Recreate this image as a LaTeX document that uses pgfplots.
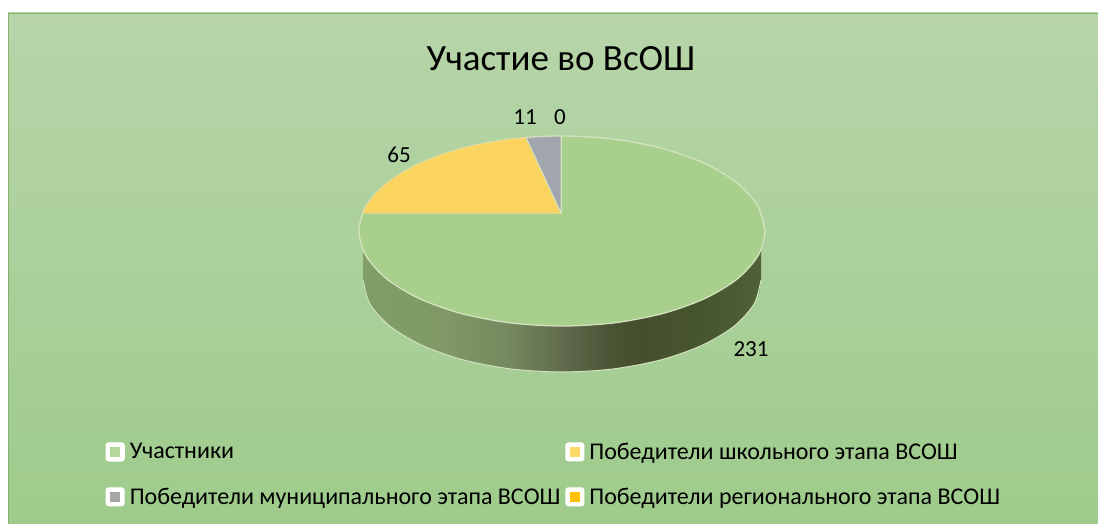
\documentclass[border=0pt]{standalone}
\usepackage{pgfplots}
\pgfplotsset{compat=1.18}
\usepackage{fontspec}
\setmainfont{Carlito}
\definecolor{bgtop}{HTML}{B7D5A9}
\definecolor{bgbot}{HTML}{9ECB8B}
\definecolor{bgedge}{HTML}{84B46C}
\definecolor{ptop}{HTML}{A9CF8D}
\definecolor{pyel}{HTML}{FBD35F}
\definecolor{pgry}{HTML}{A2A4AE}
\definecolor{lgre}{HTML}{B5D79A}
\definecolor{lyel}{HTML}{FFD966}
\definecolor{lgry}{HTML}{A5A5A5}
\definecolor{lora}{HTML}{FFC000}
\definecolor{edgec}{HTML}{D3E2BF}
\pgfdeclarehorizontalshading{pieside}{100bp}{
 rgb(0bp)=(0.50,0.62,0.40);
 rgb(25bp)=(0.50,0.62,0.40);
 rgb(35bp)=(0.50,0.60,0.40);
 rgb(43bp)=(0.46,0.54,0.37);
 rgb(50bp)=(0.38,0.42,0.30);
 rgb(56bp)=(0.29,0.33,0.21);
 rgb(60bp)=(0.27,0.31,0.18);
 rgb(68bp)=(0.28,0.34,0.18);
 rgb(75bp)=(0.31,0.38,0.21);
 rgb(100bp)=(0.31,0.38,0.21)}
\newcommand{\lgd}[1]{%
 \fill[white,rounded corners=2.5pt] (0pt,-9pt) rectangle (18pt,9pt);
 \fill[#1] (4.5pt,-4.5pt) rectangle (13.5pt,4.5pt);}
\begin{document}
\begin{tikzpicture}
\begin{axis}[
 at={(0pt,0pt)}, anchor=south west,
 scale only axis, width=1098pt, height=524pt,
 xmin=0, xmax=1098, ymin=0, ymax=524, y dir=reverse,
 hide axis, clip=false,
 legend columns=2,
 legend cell align=left,
 legend style={at={(axis cs:105.5,441)}, anchor=north west, draw=none, fill=none,
   font=\fontsize{24}{26}\selectfont, inner sep=0pt, outer sep=0pt,
   /tikz/row sep=23pt, /tikz/column sep=0pt,
   nodes={inner xsep=5pt, inner ysep=2pt}},
]
% page and chart area
\addplot[forget plot, draw=none, fill=white] coordinates {(0,0)(1098,0)(1098,524)(0,524)} --cycle;
\addplot[forget plot, draw=none, top color=bgtop, bottom color=bgbot]
  coordinates {(8,13)(1104,13)(1104,530)(8,530)} --cycle;
\addplot[forget plot, draw=bgedge, line width=1.2pt]
  coordinates {(8.6,530)(8.6,13.6)(1104,13.6)};
% side wall
\addplot[forget plot, draw=none, shading=pieside]
  coordinates {(761,240)(761,280)(759.3,292)(754.2,303.8)(745.9,315.2)(734.3,326)(719.9,336)(702.7,345)(683.1,353)(661.5,359.7)(638.2,365)(613.5,368.9)(588,371.2)(562,372)(536,371.2)(510.5,368.9)(485.8,365)(462.5,359.7)(440.9,353)(421.3,345)(404.1,336)(389.7,326)(378.1,315.2)(369.8,303.8)(364.7,292)(363,280)(363,240)} --cycle;
\addplot[forget plot, draw=edgec, line width=1pt, smooth]
  coordinates {(363,280)(369.8,303.8)(389.7,326)(421.3,345)(462.5,359.7)(510.5,368.9)(562,372)(613.5,368.9)(661.5,359.7)(702.7,345)(734.3,326)(754.2,303.8)(761,280)};
% Участники
\addplot[draw=edgec, line width=1.3pt, fill=ptop, smooth,
   legend image code/.code={\lgd{lgre}}]
  coordinates {(758.1,206.4)(765,231)(758.1,255.6)(737.8,278.5)(705.5,298.2)(663.5,313.3)(614.5,322.8)(562,326)(509.5,322.8)(460.5,313.3)(418.5,298.2)(386.2,278.5)(365.9,255.6)(359,231)(365.9,206.4)(386.2,183.5)(418.5,163.8)(460.5,148.7)(509.5,139.2)(562,136)(614.5,139.2)(663.5,148.7)(705.5,163.8)(737.8,183.5)(758.1,206.4)(765,231)};
\addlegendentry{Участники}
% школьного
\addplot[draw=edgec!50!pyel, line width=1pt, fill=pyel,
   legend image code/.code={\lgd{lyel}}]
  coordinates {(561,213)(362.7,213)(365.9,206.4)(374.5,194.6)(386.2,183.5)(401,173.2)(418.5,163.8)(438.4,155.6)(460.5,148.7)(484.3,143.2)(509.5,139.2)(526,137.5)} --cycle;
\addlegendentry{Победители школьного этапа ВСОШ}
% муниципального
\addplot[draw=edgec, line width=1pt, fill=pgry,
   legend image code/.code={\lgd{lgry}}]
  coordinates {(561,213)(526,137.5)(544,136.4)(561,136)} --cycle;
\addlegendentry{Победители муниципального этапа ВСОШ}
% регионального (0)
\addplot[draw=edgec, line width=1pt,
   legend image code/.code={\lgd{lora}}]
  coordinates {(561,213)(561,136)};
\addlegendentry{Победители регионального этапа ВСОШ}
\node[font=\fontsize{37}{40}\selectfont, text=black] at (axis cs:561,59) {Участие во ВсОШ};
\node[font=\fontsize{23}{26}\selectfont] at (axis cs:399,155) {65};
\node[font=\fontsize{23}{26}\selectfont] at (axis cs:525,117) {11};
\node[font=\fontsize{23}{26}\selectfont] at (axis cs:560,117) {0};
\node[font=\fontsize{23}{26}\selectfont] at (axis cs:751,349) {231};
\end{axis}
\pgfresetboundingbox
\path[use as bounding box] (0pt,0pt) rectangle (1098pt,524pt);
\end{tikzpicture}
\end{document}
